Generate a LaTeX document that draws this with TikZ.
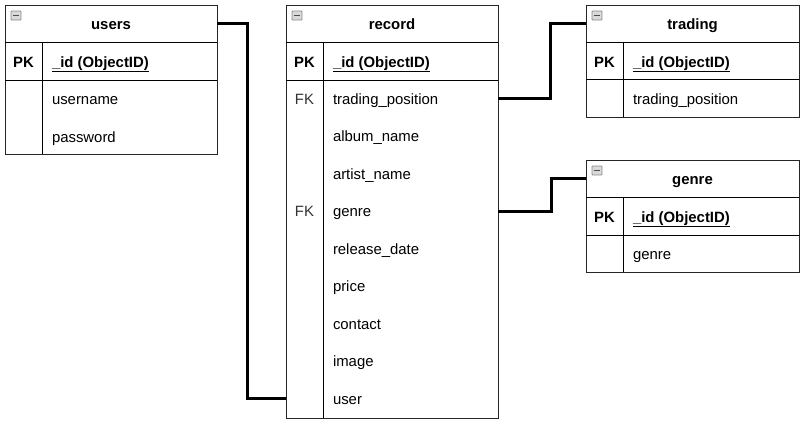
\documentclass[tikz,border=0pt]{standalone}
\usepackage{fontspec}
\setmainfont{Liberation Sans}
\begin{document}
\begin{tikzpicture}[x=1pt,y=-1pt,
  every node/.style={inner sep=0pt, outer sep=0pt},
  tblbox/.style={draw=black!85, line width=1pt, fill=white},
  sepline/.style={draw=black, line width=1pt},
  hdr/.style={minimum width=212pt, minimum height=37pt, anchor=north west},
  hdrtxt/.style={anchor=base, font=\fontsize{14.9}{17}\selectfont\bfseries},
  rowbox/.style={minimum width=212pt, minimum height=37.5pt, anchor=north west},
  keytxt/.style={anchor=base, font=\fontsize{14.9}{17}\selectfont\bfseries},
  fktxt/.style={anchor=base, font=\fontsize{14.9}{17}\selectfont, text=black!80},
  fieldtxt/.style={anchor=base west, font=\fontsize{14.9}{17}\selectfont},
  conn/.style={draw=black, line width=3pt},
  minusicon/.style={draw=black!45, fill=black!15, rounded corners=0.8pt, line width=0.8pt}
]
\useasboundingbox (0,0) rectangle (809,423);

% ---------- users ----------
\draw[tblbox] (5,5) rectangle (217,154);
\node[hdr] (usersH) at (5,5) {};
\node[hdrtxt] at (111,29.5) {users};
\node[rowbox] (usersPK) at (5,42.5) {};
\node[rowbox] (usersUsername) at (5,80) {};
\node[rowbox] (usersPassword) at (5,117.5) {};
\draw[sepline] (5,42) -- (217,42);
\draw[sepline] (5,80) -- (217,80);
\draw[sepline] (42,42) -- (42,154);
\node[keytxt] at (23.5,67) {PK};
\node[fieldtxt] at (52,67) {\underline{\bfseries \_id (ObjectID)}};
\node[fieldtxt] at (52,104.5) {username};
\node[fieldtxt] at (52,142) {password};
\draw[minusicon] (11,11) rectangle (21,20);
\draw[black!70, line width=1.2pt] (13,15.5) -- (19,15.5);

% ---------- record ----------
\draw[tblbox] (286,5) rectangle (498,418);
\node[hdr] (recH) at (286,5) {};
\node[hdrtxt] at (392,29.5) {record};
\draw[sepline] (286,42) -- (498,42);
\draw[sepline] (286,80) -- (498,80);
\draw[sepline] (323,42) -- (323,418);
\node[keytxt] at (304.5,67) {PK};
\node[fieldtxt] at (333,67) {\underline{\bfseries \_id (ObjectID)}};
\foreach \i/\nm/\txt in {0/recTrading/trading\_position,1/recAlbum/album\_name,2/recArtist/artist\_name,3/recGenre/genre,4/recRelease/release\_date,5/recPrice/price,6/recContact/contact,7/recImage/image,8/recUser/user}{
  \node[rowbox] (\nm) at (286,80+37.5*\i) {};
  \node[fieldtxt] at (333,104.25+37.5*\i) {\txt};
}
\node[fktxt] at (304.5,104.25) {FK};
\node[fktxt] at (304.5,216.75) {FK};
\draw[minusicon] (292,11) rectangle (302,20);
\draw[black!70, line width=1.2pt] (294,15.5) -- (300,15.5);

% ---------- trading ----------
\draw[tblbox] (586,5) rectangle (799,117);
\node[hdr, minimum width=213pt] (tradingH) at (586,5) {};
\node[hdrtxt] at (692.5,29.5) {trading};
\node[rowbox, minimum width=213pt] (tradingPos) at (586,79.5) {};
\draw[sepline] (586,42) -- (799,42);
\draw[sepline] (586,79.5) -- (799,79.5);
\draw[sepline] (623,42) -- (623,117);
\node[keytxt] at (604.5,67) {PK};
\node[fieldtxt] at (633,67) {\underline{\bfseries \_id (ObjectID)}};
\node[fieldtxt] at (633,104) {trading\_position};
\draw[minusicon] (592,11) rectangle (602,20);
\draw[black!70, line width=1.2pt] (594,15.5) -- (600,15.5);

% ---------- genre ----------
\draw[tblbox] (586,160) rectangle (799,272);
\node[hdr, minimum width=213pt] (genreH) at (586,160) {};
\node[hdrtxt] at (692.5,184.5) {genre};
\node[rowbox, minimum width=213pt] (genreName) at (586,235) {};
\draw[sepline] (586,197) -- (799,197);
\draw[sepline] (586,235) -- (799,235);
\draw[sepline] (623,197) -- (623,272);
\node[keytxt] at (604.5,222) {PK};
\node[fieldtxt] at (633,222) {\underline{\bfseries \_id (ObjectID)}};
\node[fieldtxt] at (633,259) {genre};
\draw[minusicon] (592,166) rectangle (602,175);
\draw[black!70, line width=1.2pt] (594,170.5) -- (600,170.5);

% ---------- connectors ----------
\draw[conn] (usersH.east) -- ++(30,0) |- (recUser.west);
\draw[conn] (recTrading.east) -- ++(52,0) |- (tradingH.west);
\draw[conn] (recGenre.east) -- ++(53,0) |- (genreH.west);
\end{tikzpicture}
\end{document}
